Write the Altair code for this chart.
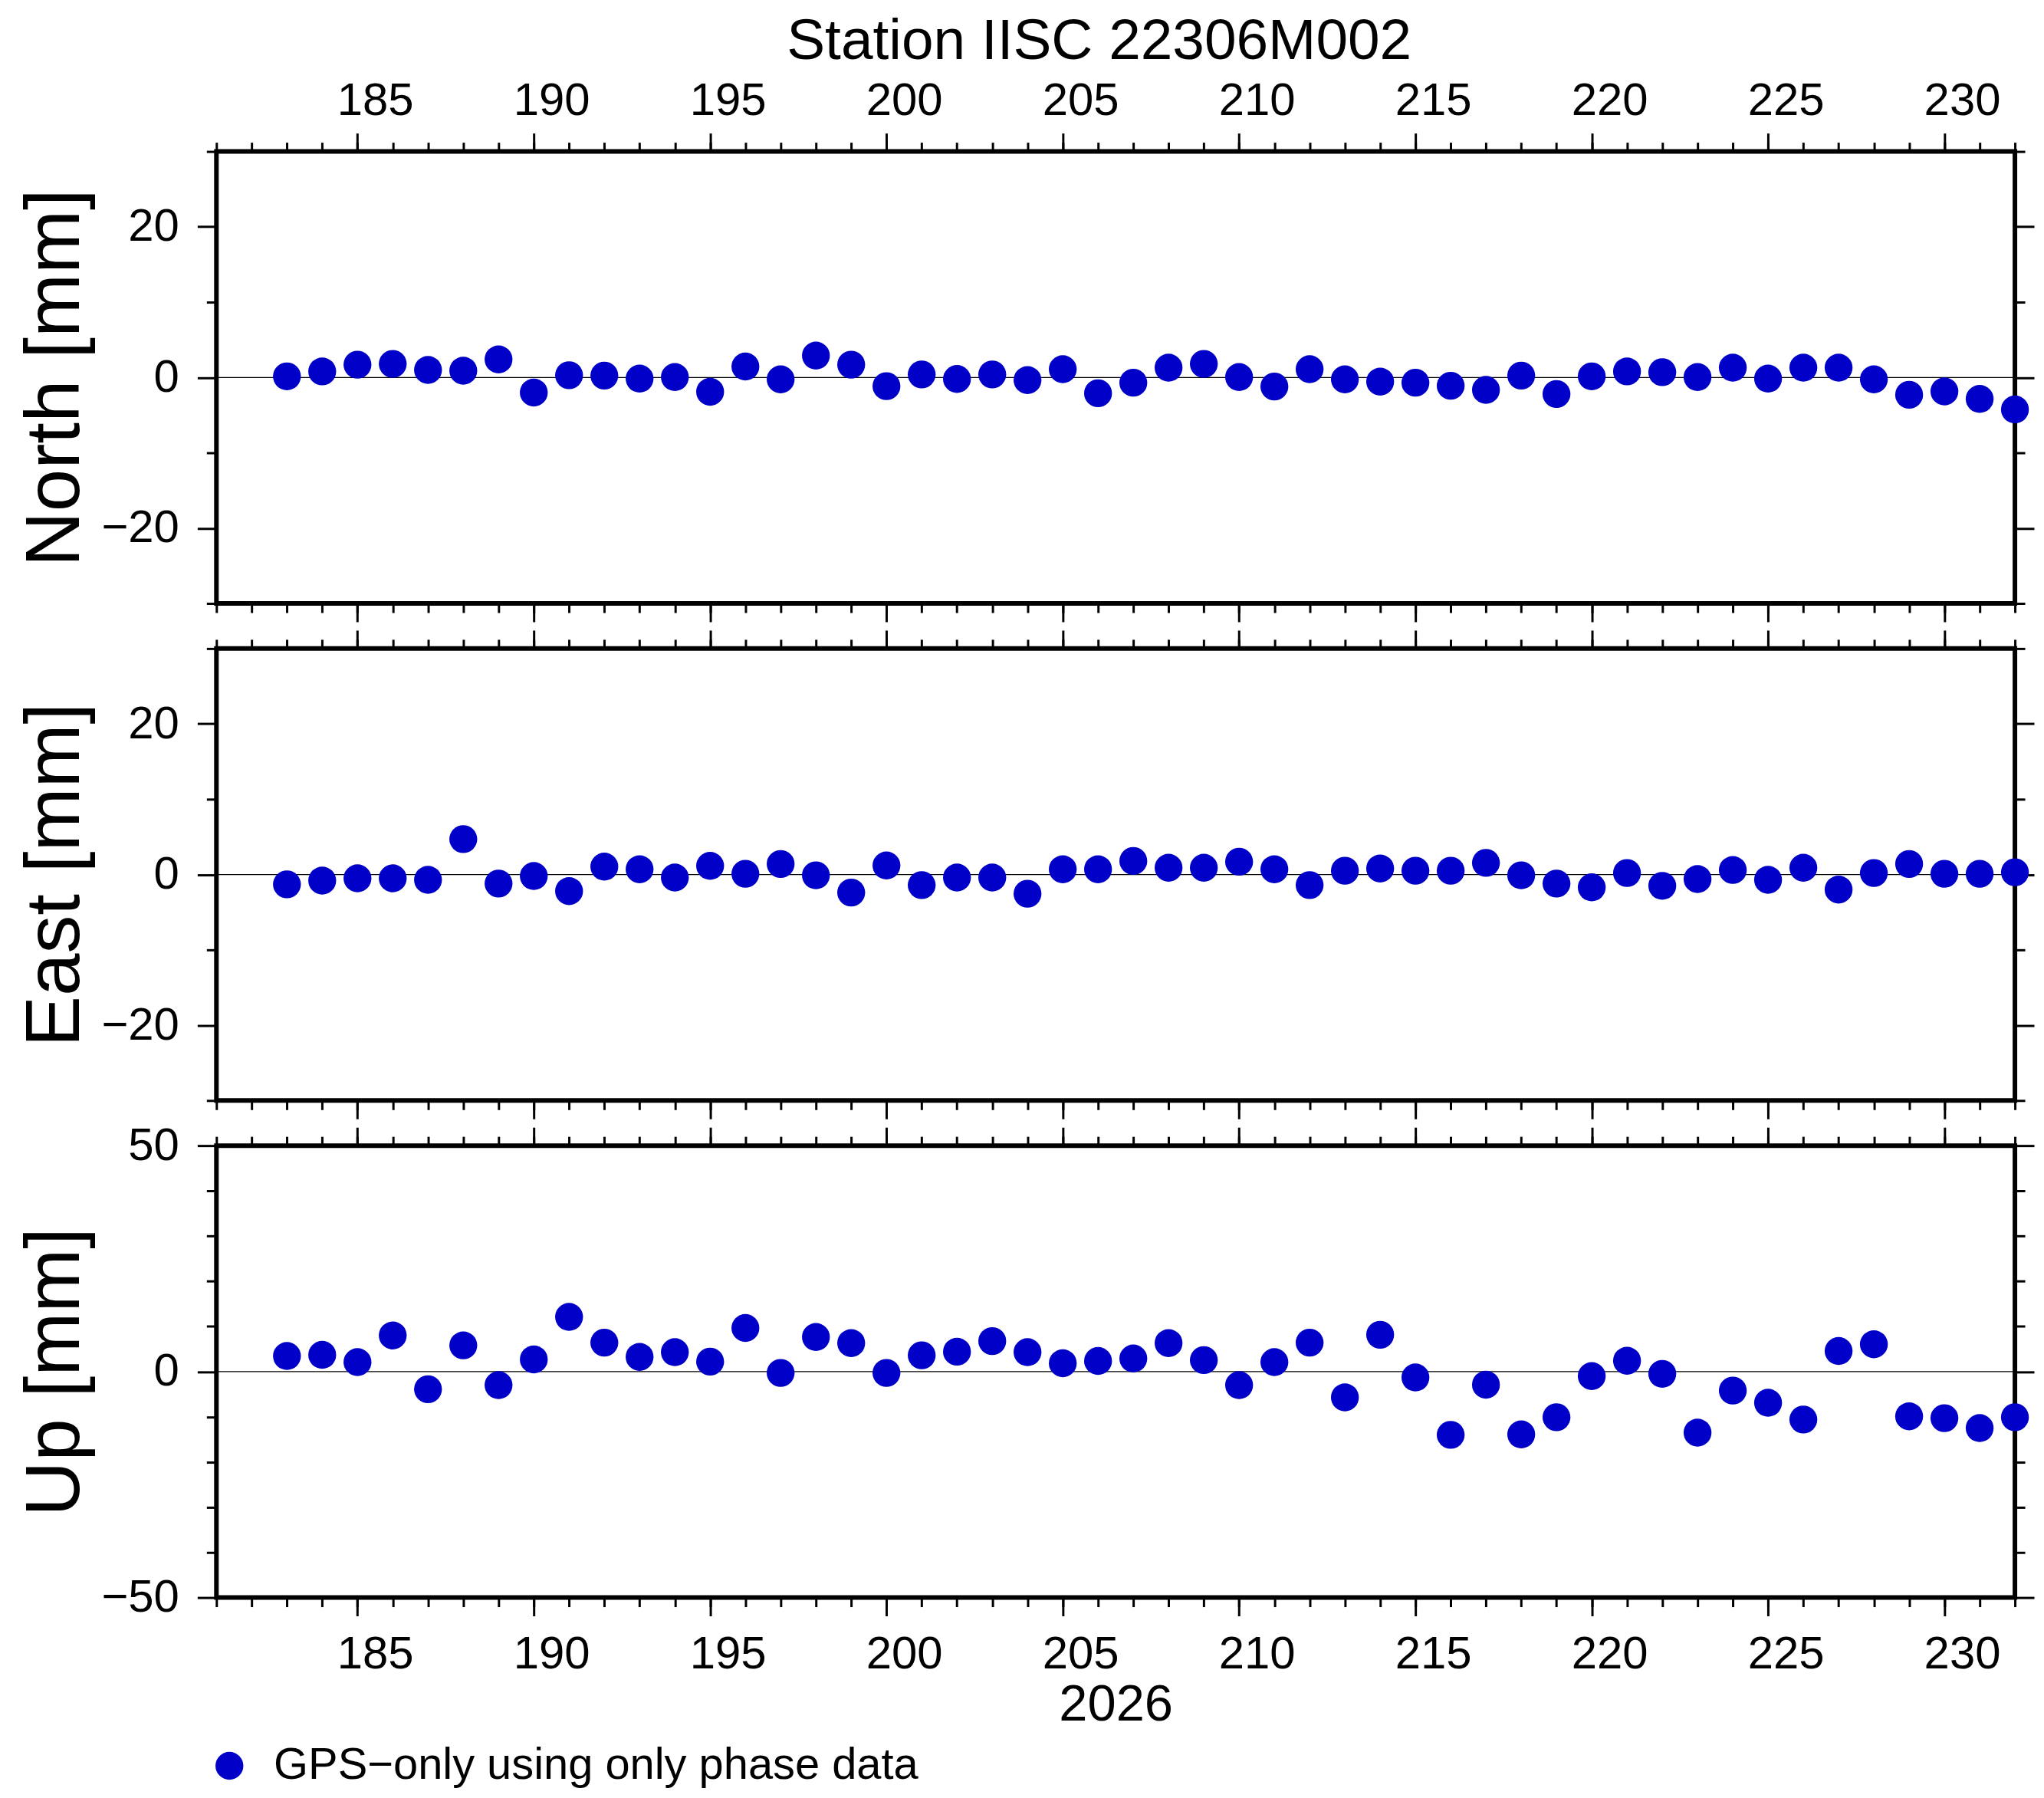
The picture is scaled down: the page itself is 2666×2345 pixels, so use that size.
import altair as alt
import pandas as pd

# ---------------- data ----------------
days = list(range(183, 233))
north = [0.15, 0.8, 1.7, 1.8, 1.0, 0.9, 2.4, -2.0, 0.3, 0.25,
         -0.15, 0.05, -1.9, 1.45, -0.25, 2.9, 1.7, -1.15, 0.4, -0.2,
         0.4, -0.35, 1.1, -2.1, -0.7, 1.3, 1.8, 0.05, -1.2, 1.1,
         -0.25, -0.55, -0.7, -1.1, -1.65, 0.25, -2.2, 0.15, 0.8, 0.7,
         0.05, 1.3, -0.15, 1.3, 1.3, -0.25, -2.3, -1.85, -2.85, -4.25]
east = [-1.3, -0.8, -0.5, -0.5, -0.7, 4.7, -1.2, -0.2, -2.2, 1.05,
        0.7, -0.4, 1.15, 0.1, 1.4, -0.1, -2.4, 1.2, -1.4, -0.4,
        -0.4, -2.55, 0.7, 0.7, 1.8, 0.9, 0.9, 1.7, 0.7, -1.4,
        0.5, 0.8, 0.5, 0.5, 1.55, -0.1, -1.2, -1.7, 0.2, -1.5,
        -0.6, 0.6, -0.7, 0.9, -2.0, 0.2, 1.4, 0.1, 0.1, 0.3]
up = [3.45, 3.7, 2.1, 8.0, -3.9, 5.8, -3.0, 2.7, 12.1, 6.4,
      3.25, 4.3, 2.2, 9.65, -0.3, 7.65, 6.3, -0.3, 3.6, 4.4,
      6.75, 4.3, 1.85, 2.35, 2.9, 6.3, 2.55, -3.0, 2.1, 6.4,
      -5.7, 8.15, -1.3, -14.0, -2.9, -13.9, -10.1, -1.0, 2.4, -0.5,
      -13.5, -4.2, -6.9, -10.6, 4.55, 6.05, -9.9, -10.3, -12.5, -10.1]

series_name = "GPS\u2212only using only phase data"
title_text = "Station IISC 22306M002"
year_label = "2026"
panel_titles = ["North [mm]", "East [mm]", "Up [mm]"]
x_domain = [181, 232]
x_major = list(range(185, 231, 5))
x_minor = list(range(181, 233))
ne_domain = [-30, 30]
ne_major = [-20, 0, 20]
ne_minor = [-30, -10, 10, 30]
up_domain = [-50, 50]
up_major = [-50, 0, 50]
up_minor = [-40, -30, -20, -10, 10, 20, 30, 40]

# ---------------- style ----------------
FONT = "Liberation Sans"
BLUE = "#0000C8"
W, H = 2352, 591
DOT = 1330
LBL = 60

common = dict(domain=False, grid=False, tickColor="black", tickWidth=3,
              labelFont=FONT, labelColor="black", titleFont=FONT,
              titleColor="black", titleFontWeight="normal")


def panel(values, ytitle, ydom, ymajor, yminor, first, last):
    df = pd.DataFrame({"day": days, "val": values,
                       "series": [series_name] * len(days)})
    xs = alt.Scale(domain=x_domain, nice=False, zero=False)
    ys = alt.Scale(domain=ydom, nice=False, zero=False)

    x_bot_major = alt.Axis(orient="bottom", values=x_major, tickSize=24,
                           labels=last, labelFontSize=LBL, labelPadding=21,
                           labelOffset=23, labelFlush=False, labelOverlap=False,
                           format="d",
                           title=year_label if last else None,
                           titleFontSize=67, titleY=107, titleBaseline="top",
                           **common)
    x_bot_minor = alt.Axis(orient="bottom", values=x_minor, tickSize=12,
                           labels=False, title=None, **common)
    x_top_major = alt.Axis(orient="top", values=x_major, tickSize=24,
                           labels=first, labelFontSize=LBL, labelPadding=11,
                           labelOffset=23, labelFlush=False, labelOverlap=False,
                           format="d",
                           title=title_text if first else None,
                           titleFontSize=75, titleX=1154, titleY=-121,
                           titleAlign="center", titleBaseline="alphabetic",
                           **common)
    x_top_minor = alt.Axis(orient="top", values=x_minor, tickSize=12,
                           labels=False, title=None, **common)

    y_left_major = alt.Axis(orient="left", values=ymajor, tickSize=25,
                            labelFontSize=LBL, labelPadding=24, format="d",
                            labelOverlap=False, labelFlush=False,
                            title=ytitle, titleFontSize=100, titleAngle=270,
                            titleX=-180, titleY=H / 2, titleBaseline="alphabetic",
                            titleAlign="center", **common)
    y_left_minor = alt.Axis(orient="left", values=yminor, tickSize=13,
                            labels=False, title=None, **common)
    y_right_major = alt.Axis(orient="right", values=ymajor, tickSize=25,
                             labels=False, title=None, **common)
    y_right_minor = alt.Axis(orient="right", values=yminor, tickSize=13,
                             labels=False, title=None, **common)

    base = alt.Chart(df)
    zero = alt.Chart(pd.DataFrame({"z": [0]})).mark_rule(
        color="black", strokeWidth=1.2
    ).encode(y=alt.Y("z:Q", scale=ys, axis=None))

    pts = base.mark_circle(size=DOT, opacity=1).encode(
        x=alt.X("day:Q", scale=xs, axis=x_bot_major),
        y=alt.Y("val:Q", scale=ys, axis=y_left_major),
        color=alt.Color(
            "series:N",
            scale=alt.Scale(domain=[series_name], range=[BLUE]),
            legend=alt.Legend(orient="none", legendX=-12, legendY=2082,
                              title=None, labelFont=FONT, labelFontSize=58,
                              labelColor="black", labelLimit=0,
                              symbolType="circle",
                              symbolSize=DOT, symbolStrokeWidth=0,
                              symbolOpacity=1, labelOffset=29, padding=0),
        ),
    )
    inv_a = base.mark_point(opacity=0).encode(
        x=alt.X("day:Q", scale=xs, axis=x_bot_minor),
        y=alt.Y("val:Q", scale=ys, axis=y_left_minor),
    )
    inv_b = base.mark_point(opacity=0).encode(
        x=alt.X("day:Q", scale=xs, axis=x_top_major),
        y=alt.Y("val:Q", scale=ys, axis=y_right_major),
    )
    inv_c = base.mark_point(opacity=0).encode(
        x=alt.X("day:Q", scale=xs, axis=x_top_minor),
        y=alt.Y("val:Q", scale=ys, axis=y_right_minor),
    )
    return alt.layer(zero, pts, inv_a, inv_b, inv_c).resolve_axis(
        x="independent", y="independent"
    ).properties(width=W, height=H)


p1 = panel(north, panel_titles[0], ne_domain, ne_major, ne_minor, True, False)
p2 = panel(east, panel_titles[1], ne_domain, ne_major, ne_minor, False, False)
p3 = panel(up, panel_titles[2], up_domain, up_major, up_minor, False, True)

chart = alt.vconcat(
    p1, p2, p3, spacing=59, bounds="flush",
).configure_view(
    stroke="black", strokeWidth=6
).properties(
    padding={"left": 12, "top": 3, "right": 0, "bottom": 0},
    background="white",
)

chart.save("out.html", embed_options={"renderer": "svg", "actions": False})
